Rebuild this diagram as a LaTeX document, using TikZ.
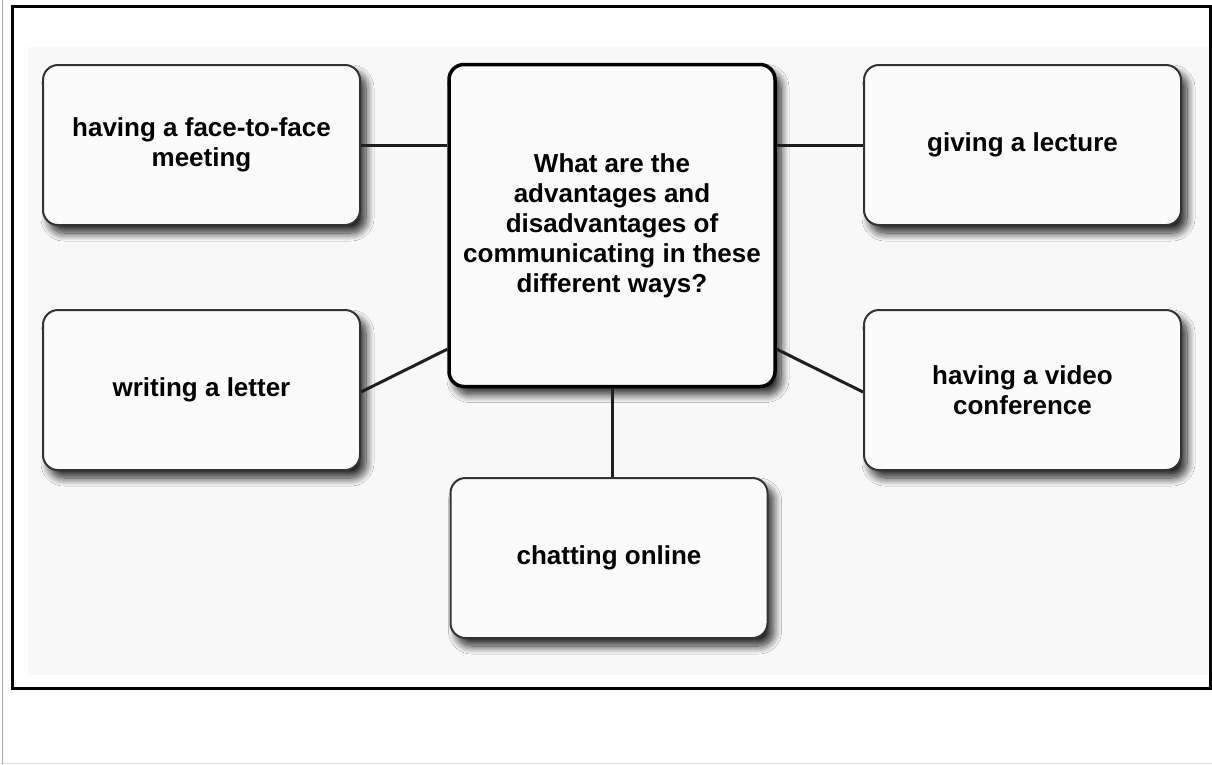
\documentclass[tikz,border=0pt]{standalone}
\usepackage{fontspec}
\setmainfont{Liberation Sans}
\usetikzlibrary{shadows.blur,calc}
\definecolor{panelgray}{HTML}{F8F8F8}
\definecolor{boxfill}{HTML}{FBFBFB}
\definecolor{edgegray}{HTML}{333333}
\tikzset{
  topic/.style={draw=edgegray, line width=2pt, fill=boxfill, rounded corners=15pt,
    minimum width=317pt, minimum height=160pt, align=center,
    font=\fontsize{26}{30}\selectfont\bfseries, inner sep=0pt,
    blur shadow={shadow xshift=6pt, shadow yshift=-8pt, shadow blur radius=8pt, shadow blur steps=14, shadow opacity=85, shadow blur extra rounding=4pt}},
  mainq/.style={topic, draw=black, line width=3.5pt, minimum width=326pt, minimum height=322pt},
  link/.style={draw=black!88, line width=3pt},
}
\begin{document}
\begin{tikzpicture}[x=1pt,y=-1pt]
\useasboundingbox (0,0) rectangle (1212,764);
\fill[white] (0,0) rectangle (1212,764);
% outer thin page edges
\draw[gray!70, line width=1.2pt] (2.5,0) -- (2.5,764);
\draw[gray!25, line width=1pt] (2.5,763) -- (1212,763);
% frame and panel
\fill[panelgray] (28,47) rectangle (1209,675);
\draw[black, line width=3pt] (12,6) rectangle (1210,688);
% nodes
\node[mainq] (q) at (612,225.5) {What are the\\advantages and\\disadvantages of\\communicating in these\\different ways?};
\node[topic] (ff) at (201.5,145) {having a face-to-face\\meeting};
\node[topic] (lec) at (1022.5,145) {giving a lecture};
\node[topic] (let) at (201.5,390) {writing a letter};
\node[topic] (vid) at (1022.5,390) {having a video\\conference};
\node[topic] (chat) at (609,558) {chatting online};
% connectors
\draw[link] (ff.east) -- (ff.east -| q.west);
\draw[link] (lec.west) -- (lec.west -| q.east);
\draw[link] ([yshift=-2pt]let.east) -- ($(q.south west)!0.12!(q.north west)$);
\draw[link] ([yshift=-2pt]vid.west) -- ($(q.south east)!0.12!(q.north east)$);
\draw[link] (q.south) -- (q.south |- chat.north);
\end{tikzpicture}
\end{document}
